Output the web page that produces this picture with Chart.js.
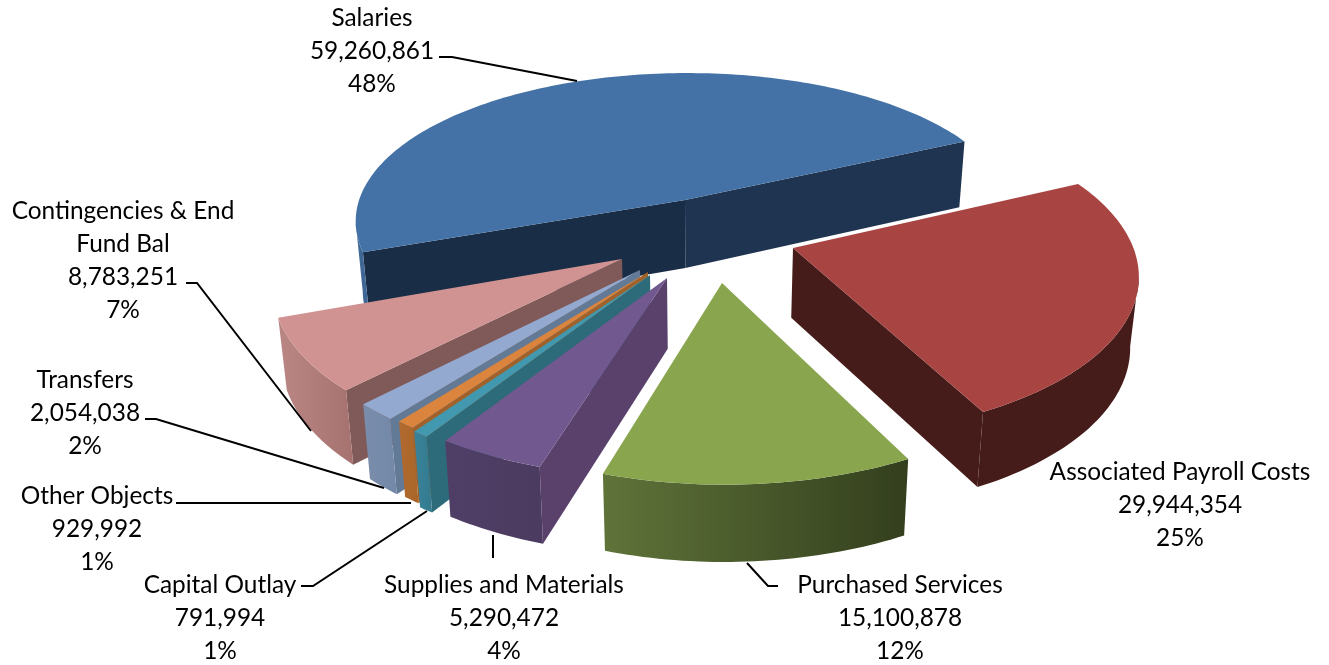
<!DOCTYPE html>
<html>
<head>
<meta charset="utf-8">
<title>Expenditures by Object</title>
<script src="https://cdn.jsdelivr.net/npm/chart.js@4"></script>
<style>
    html, body { margin: 0; padding: 0; background: #fff; }
    canvas { display: block; }
</style>
</head>
<body>
<canvas id="plot-pie" width="1329" height="665"></canvas>
<script>
/* global Chart */

const categories = ["Salaries", "Associated Payroll Costs", "Purchased Services", "Supplies and Materials",
    "Capital Outlay", "Other Objects", "Transfers", "Contingencies & End\nFund Bal"];
const amounts = [59260861, 29944354, 15100878, 5290472, 791994, 929992, 2054038, 8783251];
const shares = [48, 25, 12, 4, 1, 1, 2, 7];

// wedge colours: top face, the two flat side walls, rim gradient
const topColors = ["#4572a6", "#a84543", "#89a54e", "#71588f", "#4198af", "#db843d", "#93a9cf", "#d19392"];
const startWallColors = ["#1a2d46", "#451c1a", "#4c5e2c", "#59416c", "#2d6a7a", "#a0622a", "#637a96", "#805a59"];
const endWallColors = ["#1f3450", "#451c1a", "#4c5e2c", "#59416c", "#2d6a7a", "#a0622a", "#637a96", "#805a59"];
const rimLeftColors = ["#3f6795", "#451c1a", "#5f7339", "#4f3e66", "#38839a", "#b16a30", "#7a8dab", "#ba8785"];
const rimRightColors = ["#3f6795", "#451c1a", "#333f1d", "#4c3b60", "#347a8e", "#a96528", "#7388a8", "#a57270"];

// how far each wedge is pulled out of the pie centre, in pixels
const shiftX = [-20, 88, 17, -38, -55, -57, -65, -83];
const shiftY = [-40, 8, 43, 38, 35, 32, 30, 19];

// label anchors: centre x, then y of the first line
const labelX = [372, 1180, 900, 504, 220, 97, 85, 123];
const labelY = [18, 472, 585, 585, 585, 496, 380, 211];
const lineGap = 33;

// leader lines from label to wedge
const leaders = [
    [[439, 57], [452, 57], [577, 81]],
    [[747, 563], [768, 586], [778, 586]],
    [[493, 535], [493, 558]],
    [[301, 586], [313, 586], [427, 511]],
    [[176, 503], [411, 503]],
    [[145, 419], [156, 419], [384, 488]],
    [[186, 283], [197, 283], [311, 431]]
];

// ground plane to screen
const centerX = 705, centerY = 240;
const radiusX = 338, radiusY = 157, perspectiveX = 0.14, perspectiveY = 0.15;
const depth = 69.5, depthFade = 0.08, bottomShrink = 0.98;

function project(u, v, onBottom) {
    let x = radiusX * u / (1 + perspectiveX * v);
    let y = -radiusY * v / (1 + perspectiveY * v);
    if (onBottom) {
        x *= bottomShrink;
        y += depth / (1 + depthFade * v);
    }
    return { x: centerX + x, y: centerY + y };
}

function wedgeOrigin(i) {
    let dy = -shiftY[i];
    let v = dy / (radiusY - perspectiveY * dy);
    let u = shiftX[i] * (1 + perspectiveX * v) / radiusX;
    return { u: u, v: v };
}

function fillPolygon(ctx, points, fill) {
    ctx.beginPath();
    points.forEach((p, k) => k ? ctx.lineTo(p.x, p.y) : ctx.moveTo(p.x, p.y));
    ctx.closePath();
    ctx.fillStyle = fill;
    ctx.fill();
}

function drawWedge(ctx, arc, i) {
    let origin = wedgeOrigin(i);
    let steps = Math.max(2, Math.ceil((arc.endAngle - arc.startAngle) / 0.02));
    let rim = [];
    for (let k = 0; k <= steps; k++) {
        let a = arc.startAngle + (arc.endAngle - arc.startAngle) * k / steps;
        rim.push({ u: origin.u + Math.cos(a), v: origin.v - Math.sin(a) });
    }
    let rimTop = rim.map(p => project(p.u, p.v, false));
    let rimBottom = rim.map(p => project(p.u, p.v, true));
    let apexTop = project(origin.u, origin.v, false);
    let apexBottom = project(origin.u, origin.v, true);

    // a flat wall shows only when its top edge runs the right way from the apex
    if (rimTop[0].x < apexTop.x) {
        fillPolygon(ctx, [apexTop, rimTop[0], rimBottom[0], apexBottom], startWallColors[i]);
    }
    if (rimTop[steps].x > apexTop.x) {
        fillPolygon(ctx, [apexTop, rimTop[steps], rimBottom[steps], apexBottom], endWallColors[i]);
    }

    // only the part of the rim that runs right to left faces the viewer
    let front = [];
    for (let k = 0; k < steps; k++) {
        if (rimTop[k + 1].x < rimTop[k].x) {
            front.push(k);
        }
    }
    if (front.length) {
        let first = front[0], last = front[front.length - 1] + 1;
        let upper = rimTop.slice(first, last + 1);
        let lower = rimBottom.slice(first, last + 1).reverse();
        let xs = upper.concat(lower).map(p => p.x);
        let gradient = ctx.createLinearGradient(Math.min(...xs), 0, Math.max(...xs), 0);
        gradient.addColorStop(0, rimLeftColors[i]);
        gradient.addColorStop(1, rimRightColors[i]);
        fillPolygon(ctx, upper.concat(lower), gradient);
    }

    fillPolygon(ctx, [apexTop].concat(rimTop), topColors[i]);
}

function drawLeaders(ctx) {
    ctx.strokeStyle = "#000";
    ctx.lineWidth = 2;
    leaders.forEach(line => {
        ctx.beginPath();
        line.forEach((p, k) => k ? ctx.lineTo(p[0], p[1]) : ctx.moveTo(p[0], p[1]));
        ctx.stroke();
    });
}

function drawLabels(ctx) {
    ctx.fillStyle = "#000";
    ctx.font = "24.4px Lato";
    ctx.textAlign = "center";
    ctx.textBaseline = "middle";
    categories.forEach((name, i) => {
        let lines = name.split("\n");
        lines.push(amounts[i].toLocaleString("en-US"));
        lines.push(shares[i] + "%");
        lines.forEach((text, k) => ctx.fillText(text, labelX[i], labelY[i] + k * lineGap));
    });
}

// Replaces the flat arcs with extruded wedges; the angles still come from the pie controller.
const extrudedPie = {
    id: "extrudedPie",
    beforeDatasetsDraw(chart) {
        let ctx = chart.ctx;
        let arcs = chart.getDatasetMeta(0).data;
        let order = arcs.map((arc, i) => i);
        let depthOf = i => Math.sin((arcs[i].startAngle + arcs[i].endAngle) / 2);
        order.sort((a, b) => depthOf(a) - depthOf(b));
        ctx.save();
        order.forEach(i => drawWedge(ctx, arcs[i], i));
        ctx.restore();
        return false;
    },
    afterDraw(chart) {
        let ctx = chart.ctx;
        ctx.save();
        drawLeaders(ctx);
        drawLabels(ctx);
        ctx.restore();
    }
};

new Chart("plot-pie", {
    type: "pie",
    data: {
        labels: categories,
        datasets: [{ data: amounts, backgroundColor: topColors, borderWidth: 0 }]
    },
    options: {
        responsive: false,
        animation: false,
        rotation: -110,
        plugins: {
            legend: { display: false },
            tooltip: { enabled: false }
        }
    },
    plugins: [extrudedPie]
});
</script>
</body>
</html>
